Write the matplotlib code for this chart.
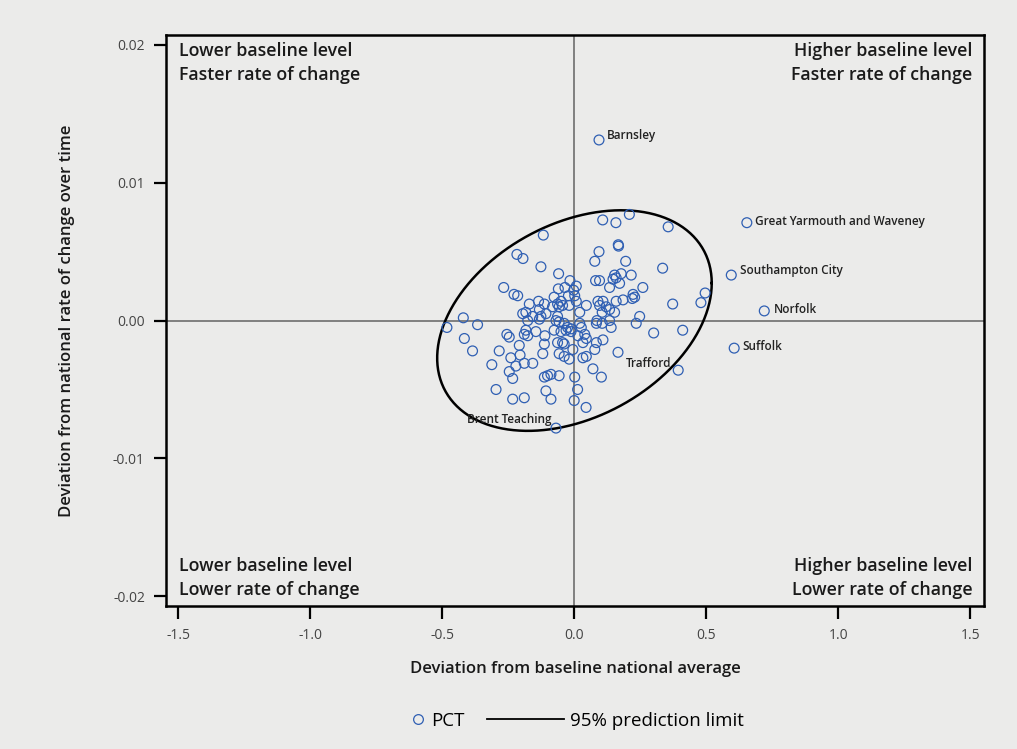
import numpy as np
import matplotlib
matplotlib.use('Agg')
import matplotlib.pyplot as plt
from matplotlib.lines import Line2D

plt.rcParams['font.family'] = ['Open Sans', 'DejaVu Sans']
plt.rcParams['axes.unicode_minus'] = False

# PCT deviations: baseline level (x) and rate of change over time (y)
dev_base = [
    -0.118, -0.218, -0.195, -0.127, -0.060, -0.017, -0.268, -0.229, -0.215, -0.171,
    -0.136, -0.114, -0.061, -0.036, -0.077, -0.023, -0.051, -0.064, -0.058, -0.045,
    -0.083, -0.133, -0.184, -0.196, -0.158, -0.127, -0.108, -0.064, -0.020, -0.003,
    0.077, 0.093, 0.194, 0.080, 0.095, 0.133, 0.152, 0.158, 0.146, 0.177,
    0.171, 0.215, 0.259, 0.007, 0.001, 0.007, 0.020, 0.045, 0.089, 0.108,
    0.095, 0.120, 0.133, 0.152, 0.105, 0.158, 0.184, 0.222, 0.228, 0.219,
    0.247, 0.085, 0.133,
    0.107, 0.157, 0.208, 0.355, 0.166, 0.167, 0.334, 0.372, 0.479, 0.495,
    -0.177, -0.133, -0.070, -0.058, -0.039, -0.026, -0.013, -0.256, -0.247, -0.184,
    -0.190, -0.177, -0.146, -0.112, -0.077, -0.051, -0.032, -0.013, -0.064, -0.045,
    -0.039, -0.209, -0.114, -0.120, -0.058, -0.039, -0.020, -0.206, -0.190, -0.158,
    -0.247, -0.234, -0.114, -0.102, -0.089, -0.058, -0.241, -0.222,
    0.020, 0.026, 0.013, 0.039, 0.045, 0.032, 0.083, 0.105, 0.139, 0.234,
    0.083, 0.108, 0.077, -0.006, 0.032, 0.045, 0.070, 0.102, 0.001,
    0.300, 0.410, 0.393, 0.012, 0.044, -0.001,
    -0.483, -0.421, -0.367, -0.417, -0.386, -0.285, -0.313, -0.297, -0.234, -0.190,
    -0.108, -0.089,
]
dev_rate = [
    0.0062, 0.0048, 0.0045, 0.0039, 0.0034, 0.0029, 0.0024, 0.0019, 0.0018, 0.0012,
    0.0014, 0.0012, 0.0023, 0.0024, 0.0017, 0.0018, 0.0014, 0.0012, 0.0010, 0.0011,
    0.0010, 0.0008, 0.0006, 0.0005, 0.0003, 0.0003, 0.0005, 0.0003, 0.0011, 0.0022,
    0.0043, 0.0050, 0.0043, 0.0029, 0.0029, 0.0024, 0.0033, 0.0031, 0.0030, 0.0034,
    0.0027, 0.0033, 0.0024, 0.0025, 0.0018, 0.0014, 0.0006, 0.0011, 0.0014, 0.0014,
    0.0011, 0.0010, 0.0008, 0.0006, 0.0006, 0.0014, 0.0015, 0.0019, 0.0017, 0.0016,
    0.0003, 0.0000, 0.0000,
    0.0073, 0.0071, 0.0077, 0.0068, 0.0055, 0.0054, 0.0038, 0.0012, 0.0013, 0.0020,
    0.0000, 0.0001, 0.0000, -0.0001, -0.0002, -0.0005, -0.0006, -0.0010, -0.0012, -0.0007,
    -0.0010, -0.0011, -0.0008, -0.0011, -0.0007, -0.0008, -0.0007, -0.0008, -0.0016, -0.0016,
    -0.0017, -0.0018, -0.0017, -0.0024, -0.0024, -0.0026, -0.0028, -0.0025, -0.0031, -0.0031,
    -0.0037, -0.0042, -0.0041, -0.0040, -0.0039, -0.0040, -0.0027, -0.0033,
    -0.0002, -0.0005, -0.0011, -0.0010, -0.0013, -0.0016, -0.0002, -0.0002, -0.0005, -0.0002,
    -0.0016, -0.0014, -0.0021, -0.0021, -0.0027, -0.0026, -0.0035, -0.0041, -0.0041,
    -0.0009, -0.0007, -0.0036, -0.0050, -0.0063, -0.0058,
    -0.0005, 0.0002, -0.0003, -0.0013, -0.0022, -0.0022, -0.0032, -0.0050, -0.0057, -0.0056,
    -0.0051, -0.0057,
]

# named outliers
named = ['Barnsley', 'Great Yarmouth and Waveney', 'Southampton City', 'Norfolk',
         'Suffolk', 'Trafford', 'Brent Teaching']
named_base = [0.093, 0.653, 0.594, 0.719, 0.605, 0.165, -0.070]
named_rate = [0.0131, 0.0071, 0.0033, 0.0007, -0.0020, -0.0023, -0.0078]

# 95% prediction ellipse: half-extent in x and y, correlation
ell_x = 0.52
ell_y = 0.0080
ell_r = 0.34

blue = '#2f5fb3'
bg = '#ebebea'

fig = plt.figure(figsize=(10.17, 7.49), dpi=100, facecolor=bg)
ax = fig.add_axes([0.163, 0.191, 0.805, 0.762], facecolor=bg)

ax.axhline(0, color='#808080', lw=1.4, zorder=1)
ax.axvline(0, color='#808080', lw=1.4, zorder=1)

t = np.linspace(0, 2 * np.pi, 400)
d = np.arccos(ell_r)
ax.plot(ell_x * np.cos(t), ell_y * np.cos(t - d), color='black', lw=1.8, zorder=2)

ax.scatter(dev_base + named_base, dev_rate + named_rate, s=50, facecolors='none',
           edgecolors=blue, linewidths=0.9, zorder=3)

# label offsets in points (dx, dy, ha)
offs = [(6, 3, 'left'), (6, 1, 'left'), (6, 3, 'left'), (7, 1, 'left'),
        (6, 1, 'left'), (6, -8, 'left'), (-3, 6, 'right')]
for n, xv, yv, (dx, dy, ha) in zip(named, named_base, named_rate, offs):
    ax.annotate(n, (xv, yv), xytext=(dx, dy), textcoords='offset points',
                fontsize=8.5, fontweight='semibold', color='#222222', ha=ha,
                va='center')

ax.set_xlim(-1.548, 1.553)
ax.set_ylim(-0.0207, 0.0207)
ax.set_xticks([-1.5, -1.0, -0.5, 0.0, 0.5, 1.0, 1.5])
ax.set_xticklabels(['-1.5', '-1.0', '-0.5', '0.0', '0.5', '1.0', '1.5'])
ax.set_yticks([-0.02, -0.01, 0.0, 0.01, 0.02])
ax.set_yticklabels(['-0.02', '-0.01', '0.00', '0.01', '0.02'])
ax.tick_params(length=9, width=1.6, color='black', labelsize=10,
               labelcolor='#444444', pad=6)
ax.tick_params(axis='x', pad=7)
for sp in ax.spines.values():
    sp.set_linewidth(1.8)

ck = dict(fontsize=12.8, fontweight='semibold', color='#1a1a1a', linespacing=1.42,
          transform=ax.transAxes)
ax.text(0.016, 0.988, 'Lower baseline level\nFaster rate of change', ha='left', va='top', **ck)
ax.text(0.985, 0.988, 'Higher baseline level\nFaster rate of change', ha='right', va='top', **ck)
ax.text(0.016, 0.012, 'Lower baseline level\nLower rate of change', ha='left', va='bottom', **ck)
ax.text(0.985, 0.012, 'Higher baseline level\nLower rate of change', ha='right', va='bottom', **ck)

ax.set_xlabel('Deviation from baseline national average', fontsize=12,
              fontweight='semibold', color='#1a1a1a', labelpad=13)
ax.set_ylabel('Deviation from national rate of change over time', fontsize=12,
              fontweight='semibold', color='#1a1a1a', labelpad=27)

h_pct = Line2D([], [], ls='none', marker='o', mfc='none', mec=blue, ms=7, mew=0.9)
h_ell = Line2D([], [], color='black', lw=1.3)
fig.legend([h_pct], ['PCT'], loc='center', bbox_to_anchor=(0.431, 0.038),
           frameon=False, fontsize=13.5, handlelength=0.6, handletextpad=0.4)
fig.legend([h_ell], ['95% prediction limit'], loc='center',
           bbox_to_anchor=(0.605, 0.038), frameon=False, fontsize=13.5,
           handlelength=4.1, handletextpad=0.3)

fig.savefig('out.png', dpi=100, facecolor=bg)
